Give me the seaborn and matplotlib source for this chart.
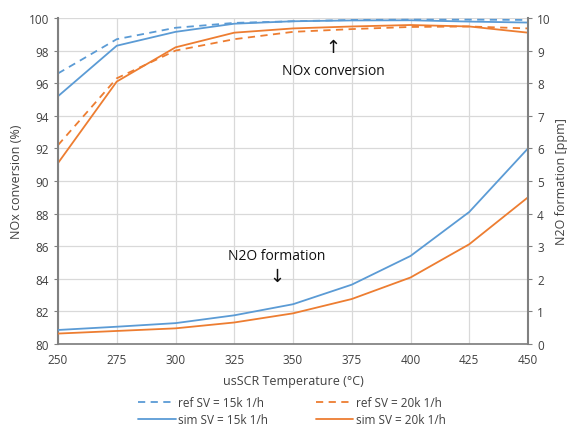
import matplotlib
matplotlib.use("Agg")
import matplotlib.pyplot as plt
import seaborn as sns
import pandas as pd

temps = [250, 275, 300, 325, 350, 375, 400, 425, 450]
nox_ref_15k = [96.6, 98.7, 99.4, 99.7, 99.8, 99.88, 99.9, 99.9, 99.88]
nox_sim_15k = [95.2, 98.3, 99.15, 99.65, 99.8, 99.85, 99.86, 99.78, 99.72]
nox_ref_20k = [92.2, 96.3, 98.0, 98.7, 99.15, 99.32, 99.45, 99.48, 99.36]
nox_sim_20k = [91.1, 96.1, 98.2, 99.1, 99.36, 99.48, 99.57, 99.48, 99.1]
n2o_sim_15k = [0.43, 0.53, 0.64, 0.88, 1.22, 1.82, 2.70, 4.05, 6.0]
n2o_sim_20k = [0.32, 0.40, 0.48, 0.66, 0.94, 1.38, 2.04, 3.06, 4.5]

blue = "#5B9BD5"
orange = "#ED7D31"

sns.set_theme(style="white")
plt.rcParams['font.family'] = ['Open Sans', 'DejaVu Sans']

fig = plt.figure(figsize=(5.69, 4.31), dpi=100)
ax = fig.add_axes([58/569, 1 - 345/431, (528-58)/569, (345-19)/431])
ax2 = ax.twinx()

lw = 1.3
sns.lineplot(x=temps, y=nox_ref_15k, ax=ax, color=blue, lw=lw, linestyle=(0, (4, 3)), label="ref SV = 15k 1/h")
sns.lineplot(x=temps, y=nox_sim_15k, ax=ax, color=blue, lw=lw, label="sim SV = 15k 1/h")
sns.lineplot(x=temps, y=nox_ref_20k, ax=ax, color=orange, lw=lw, linestyle=(0, (4, 3)), label="ref SV = 20k 1/h")
sns.lineplot(x=temps, y=nox_sim_20k, ax=ax, color=orange, lw=lw, label="sim SV = 20k 1/h")
sns.lineplot(x=temps, y=n2o_sim_15k, ax=ax2, color=blue, lw=lw, legend=False)
sns.lineplot(x=temps, y=n2o_sim_20k, ax=ax2, color=orange, lw=lw, legend=False)

ax.set_xlim(250, 450)
ax.set_ylim(80, 100)
ax2.set_ylim(0, 10)
ax.set_xticks(temps)
ax.set_yticks(range(80, 101, 2))
ax2.set_yticks(range(0, 11, 1))

ax.grid(True, color="#d9d9d9", lw=0.9)
ax.set_axisbelow(True)
for a in (ax, ax2):
    for s in ("top", "left", "right", "bottom"):
        a.spines[s].set_visible(False)
ax.spines["bottom"].set_visible(True)
ax.spines["bottom"].set_color("#808080")
ax.spines["left"].set_visible(True)
ax.spines["left"].set_color("#808080")
ax.spines["left"].set_linewidth(1.5)
ax2.spines["right"].set_visible(True)
ax2.spines["right"].set_color("#808080")
ax2.spines["right"].set_linewidth(1.5)

tick_kw = dict(labelsize=8.5, length=3, width=0.8, direction="out", colors="#808080", labelcolor="#404040")
ax.tick_params(axis="both", **tick_kw)
ax2.tick_params(axis="y", **tick_kw)
ax2.grid(False)

ax.set_xlabel("usSCR Temperature (°C)", fontsize=9, color="#404040", labelpad=6)
ax.set_ylabel("NOx conversion (%)", fontsize=9, color="#404040", labelpad=4)
ax2.set_ylabel("N2O formation [ppm]", fontsize=9, color="#404040", labelpad=3)

ax.text(367, 96.75, "NOx conversion", fontsize=10, ha="center", va="center", color="#111111")
ax.text(367, 98.2, "↑", fontsize=13, ha="center", va="center", color="#111111", family="DejaVu Sans")
ax.text(343, 85.4, "N2O formation", fontsize=10, ha="center", va="center", color="#111111")
ax.text(343, 84.15, "↓", fontsize=13, ha="center", va="center", color="#111111", family="DejaVu Sans")

h, l = ax.get_legend_handles_labels()
ax.legend().remove()
leg = fig.legend(h, l, ncol=2, loc="upper center",
                 bbox_to_anchor=(292/569, 1 - 397/431), frameon=False, fontsize=8.5,
                 handlelength=3.2, handletextpad=0.2, columnspacing=4.0, labelspacing=0.35,
                 borderaxespad=0, borderpad=0)
for t in leg.get_texts():
    t.set_color("#404040")

fig.savefig("out.png", dpi=100)
